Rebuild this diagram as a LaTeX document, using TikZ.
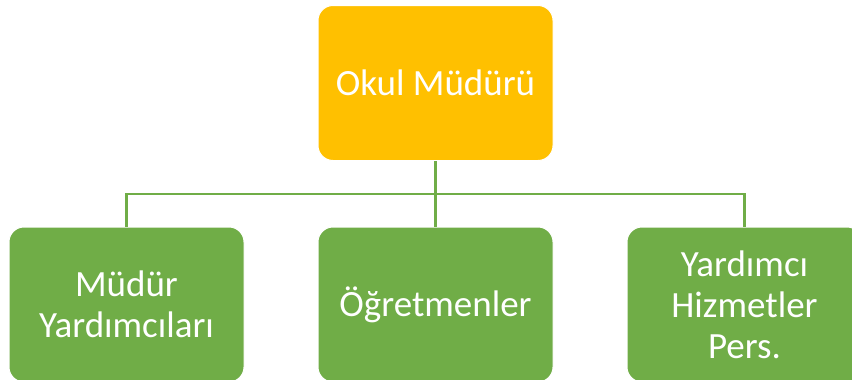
\documentclass[tikz,border=0pt]{standalone}
\usepackage{fontspec}
\setmainfont{Carlito}
\usepackage{tikz}
\usetikzlibrary{calc}

\definecolor{boxgold}{HTML}{FFC000}
\definecolor{boxgreen}{HTML}{70AD47}

\begin{document}
\begin{tikzpicture}[x=1pt, y=-1pt,
        unit/.style={draw=white, line width=1pt, rounded corners=15pt, text=white,
            minimum width=235pt, minimum height=155pt, align=center, inner sep=0pt,
            font=\fontsize{37}{41}\selectfont},
        link/.style={draw=boxgreen, line width=2.2pt}]
        \useasboundingbox (0, 0) rectangle (852, 380);
        \clip (0, 0) rectangle (852, 380);
        \node [unit, fill=boxgold] (mudur) at (435.5, 83) {Okul Müdürü};
        \node [unit, fill=boxgreen] (yard) at (126.5, 304.5) {Müdür\\Yardımcıları};
        \node [unit, fill=boxgreen] (ogret) at (435.5, 304.5) {Öğretmenler};
        \node [unit, fill=boxgreen] (hizm) at (744.5, 304.5) {Yardımcı\\Hizmetler\\Pers.};
        \coordinate (bus) at (0, 194);
        \path [link] (mudur.south) -- (mudur.south |- bus);
        \path [link] (mudur.south |- bus) -| (yard.north);
        \path [link] (mudur.south |- bus) -| (hizm.north);
        \path [link] (mudur.south |- bus) -- (ogret.north);
    \end{tikzpicture}
\end{document}
